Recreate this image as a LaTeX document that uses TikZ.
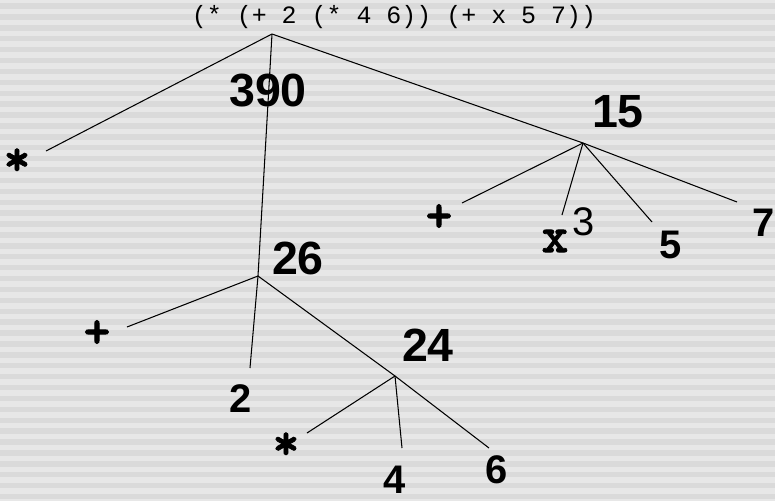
\documentclass[tikz,border=0pt]{standalone}
\usepackage{fontspec}
\setmainfont{Liberation Sans}
\newfontfamily\codefont{Liberation Mono}
\newfontfamily\opfont{lmmonolt10-bold.otf}[FakeBold=1.6]
\usepackage{tikz}
\usetikzlibrary{positioning,calc}
\usepackage{xcolor}
\definecolor{bandlight}{HTML}{E7E7E7}
\definecolor{banddark}{HTML}{DADADA}

\begin{document}
\begin{tikzpicture}[x=0.02cm, y=-0.02cm,
  val/.style={inner sep=0pt, font=\fontsize{26.5}{28}\selectfont\bfseries},
  leaf/.style={inner sep=0pt, font=\fontsize{22.7}{24}\selectfont\bfseries},
  op/.style={inner sep=0pt, font=\opfont\fontsize{29}{31}\selectfont},
  edge_/.style={line width=0.6pt, black}
]
  % striped background
  \fill[bandlight] (0,0) rectangle (775,501);
  \foreach \i in {0,...,45}
    \fill[banddark] (0,3.3+10.9*\i) rectangle (775,8.7+10.9*\i);
  \useasboundingbox (0,0) rectangle (775,501);

  \node[inner sep=0pt, font=\codefont\fontsize{14.2}{16}\selectfont] (expr) at (394,17) {(* (+ 2 (* 4 6)) (+ x 5 7))};

  % junctions
  \coordinate (root) at (272,34);
  \coordinate (j26)  at (258,276);
  \coordinate (j24)  at (395,376);
  \coordinate (j15)  at (583,143);

  % values
  \node[val] (v390) at (268,91)  {390};
  \node[val] (v26)  at (298,258) {26};
  \node[val] (v24)  at (428,345) {24};
  \node[val] (v15)  at (618,112) {15};

  % leaves
  \node[op]   (mulA)  at (17,162)  {*};
  \node[op]   (plusA) at (97,334)  {+};
  \node[leaf] (two)   at (241,399) {2};
  \node[op]   (mulB)  at (286,446) {*};
  \node[leaf] (four)  at (395,480) {4};
  \node[leaf] (six)   at (497,470) {6};
  \node[op]   (plusB) at (439,218) {+};
  \node[op]   (xvar)  at (555,241) {x};
  \node[inner sep=0pt, font=\fontsize{22.7}{24}\selectfont] (three) at (584,222) {3};
  \node[leaf] (five)  at (671,245) {5};
  \node[leaf] (seven) at (764,223) {7};

  % free ends of the edges
  \coordinate (eMulA)  at (46,151);
  \coordinate (ePlusA) at (127,327);
  \coordinate (eTwo)   at (250,368);
  \coordinate (eMulB)  at (307,433);
  \coordinate (eFour)  at (402,448);
  \coordinate (eSix)   at (489,448);
  \coordinate (ePlusB) at (462,203);
  \coordinate (eX)     at (562,215);
  \coordinate (eFive)  at (652,222);
  \coordinate (eSeven) at (737,202);

  \draw[edge_] (root) -- (eMulA);
  \draw[edge_] (root) -- (j26);
  \draw[edge_] (root) -- (j15);
  \draw[edge_] (j26) -- (ePlusA);
  \draw[edge_] (j26) -- (eTwo);
  \draw[edge_] (j26) -- (j24);
  \draw[edge_] (j24) -- (eMulB);
  \draw[edge_] (j24) -- (eFour);
  \draw[edge_] (j24) -- (eSix);
  \draw[edge_] (j15) -- (ePlusB);
  \draw[edge_] (j15) -- (eX);
  \draw[edge_] (j15) -- (eFive);
  \draw[edge_] (j15) -- (eSeven);
\end{tikzpicture}
\end{document}
